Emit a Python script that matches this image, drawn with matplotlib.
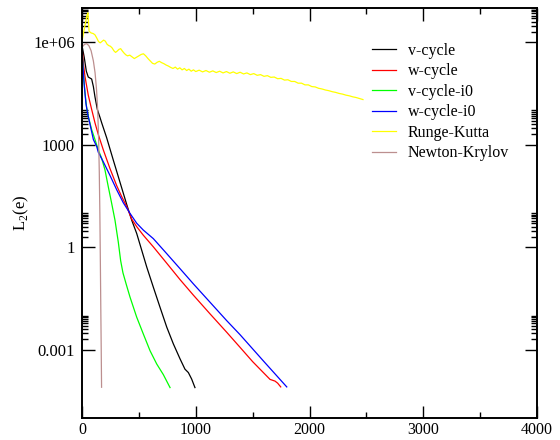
import numpy as np
import matplotlib
matplotlib.use("Agg")
import matplotlib.pyplot as plt
from matplotlib.ticker import FixedLocator, FixedFormatter, NullFormatter

plt.rcParams['font.family'] = ['Liberation Serif', 'DejaVu Serif']
plt.rcParams['mathtext.fontset'] = 'custom'
plt.rcParams['mathtext.rm'] = 'Liberation Serif'

# iteration counts and log10 of the error norm for each solver
vcycle_it = [0, 20, 38, 55, 85, 100, 114, 135, 158, 173, 217, 275, 334, 393, 437,
             481, 525, 569, 627, 686, 745, 803, 862, 905, 935, 964, 993]
vcycle_lg = [5.9, 5.55, 5.15, 4.98, 4.92, 4.7, 4.4, 4.03, 3.8, 3.64, 3.2, 2.55, 1.9,
             1.25, 0.79, 0.40, -0.09, -0.58, -1.17, -1.76, -2.34, -2.83, -3.27,
             -3.57, -3.67, -3.86, -4.11]

wcycle_it = [0, 15, 26, 55, 85, 114, 143, 187, 246, 305, 349, 393, 437, 481, 539,
             627, 745, 862, 978, 1125, 1272, 1389, 1500, 1653, 1697, 1720, 1747]
wcycle_lg = [5.85, 5.3, 5.0, 4.45, 4.03, 3.64, 3.3, 2.85, 2.3, 1.8, 1.48, 1.19, 0.82,
             0.60, 0.35, 0.01, -0.47, -0.95, -1.40, -1.95, -2.49, -2.93, -3.35,
             -3.87, -3.92, -3.98, -4.09]

vcycle_i0_it = [0, 10, 26, 40, 55, 85, 114, 143, 173, 202, 231, 261, 290, 319, 340,
                360, 390, 422, 481, 539, 598, 657, 715, 774]
vcycle_i0_lg = [5.8, 5.2, 4.52, 4.1, 3.83, 3.44, 3.15, 2.85, 2.6, 2.26, 1.77, 1.28,
                0.79, 0.15, -0.4, -0.75, -1.1, -1.46, -2.05, -2.54, -3.03, -3.42,
                -3.73, -4.11]

wcycle_i0_it = [0, 10, 18, 35, 50, 70, 100, 129, 143, 187, 246, 305, 363, 422, 481,
                539, 627, 745, 862, 978, 1125, 1272, 1389, 1600, 1800]
wcycle_i0_lg = [5.8, 5.2, 4.8, 4.2, 3.9, 3.6, 3.15, 2.95, 2.78, 2.5, 2.1, 1.68, 1.3,
                0.99, 0.70, 0.50, 0.25, -0.19, -0.63, -1.07, -1.61, -2.15, -2.56,
                -3.35, -4.09]

rk_it = [0, 15, 30, 45, 52, 57, 62, 80, 100, 115, 130, 145, 160, 175, 190, 205, 220,
         235, 250, 265, 280, 295, 310, 325, 340, 355, 370, 385, 400, 420, 440, 460,
         480, 500, 520, 540, 560, 580, 600, 620, 640, 660, 680, 700, 720, 740, 760,
         780, 800, 820, 840, 860, 880, 900, 920, 940, 960, 980, 1000, 1030, 1060,
         1090, 1120, 1150, 1180, 1210, 1240, 1270, 1300, 1330, 1360, 1390, 1420,
         1450, 1480, 1510, 1540, 1570, 1600, 1630, 1660, 1690, 1720, 1750, 1780,
         1810, 1840, 1870, 1900, 1930, 1960, 1990, 2020, 2050, 2080, 2110, 2140,
         2170, 2200, 2230, 2260, 2290, 2320, 2350, 2380, 2410, 2440, 2470]
rk_lg = [6.02, 6.3, 6.55, 6.8, 6.86, 6.6, 6.32, 6.27, 6.25, 6.21, 6.12, 6.02, 5.98,
         6.02, 6.06, 6.03, 5.94, 5.9, 5.88, 5.83, 5.75, 5.7, 5.74, 5.79, 5.81, 5.74,
         5.68, 5.63, 5.6, 5.62, 5.57, 5.52, 5.56, 5.6, 5.64, 5.66, 5.6, 5.52, 5.45,
         5.38, 5.36, 5.41, 5.44, 5.4, 5.37, 5.33, 5.3, 5.26, 5.23, 5.27, 5.21, 5.25,
         5.19, 5.23, 5.17, 5.21, 5.15, 5.19, 5.14, 5.18, 5.13, 5.17, 5.12, 5.16,
         5.11, 5.15, 5.1, 5.14, 5.09, 5.13, 5.08, 5.12, 5.07, 5.1, 5.05, 5.08, 5.03,
         5.05, 5.0, 5.02, 4.97, 4.98, 4.93, 4.94, 4.89, 4.9, 4.85, 4.85, 4.8, 4.8,
         4.75, 4.75, 4.7, 4.69, 4.65, 4.63, 4.6, 4.58, 4.55, 4.53, 4.5, 4.48, 4.45,
         4.43, 4.4, 4.38, 4.35, 4.32]

nk_it = [0, 20, 40, 60, 80, 100, 115, 128, 138, 146, 152, 157, 161, 165, 169, 172]
nk_lg = [5.85, 5.93, 5.96, 5.9, 5.75, 5.45, 5.1, 4.6, 4.0, 3.2, 2.2, 1.0, -0.3, -1.7,
         -3.0, -4.1]

series = [
    ("v-cycle", vcycle_it, vcycle_lg, "#000000"),
    ("w-cycle", wcycle_it, wcycle_lg, "#ff0000"),
    ("v-cycle-i0", vcycle_i0_it, vcycle_i0_lg, "#00ff00"),
    ("w-cycle-i0", wcycle_i0_it, wcycle_i0_lg, "#0000ff"),
    ("Runge-Kutta", rk_it, rk_lg, "#ffff00"),
    ("Newton-Krylov", nk_it, nk_lg, "#bc8f8f"),
]

fig = plt.figure(figsize=(5.6, 4.4), dpi=100)
ax = fig.add_axes([82 / 560, 22 / 440, 455 / 560, 410 / 440])

for name, it, lg, col in series:
    ax.plot(it, np.power(10.0, lg), color=col, lw=0.9, label=name)

ax.set_yscale('log')
ax.set_xlim(0, 4000)
ax.set_ylim(1e-5, 1e7)

ax.xaxis.set_major_locator(FixedLocator([0, 1000, 2000, 3000, 4000]))
ax.xaxis.set_minor_locator(FixedLocator([500, 1500, 2500, 3500]))
ax.xaxis.set_major_formatter(FixedFormatter(["0", "1000", "2000", "3000", "4000"]))

ymaj = [1e-3, 1.0, 1e3, 1e6]
ax.yaxis.set_major_locator(FixedLocator(ymaj))
ax.yaxis.set_major_formatter(FixedFormatter(["0.001", "1", "1000", "1e+06"]))
ymin = [k * b for b in ymaj for k in range(2, 11)]
ax.yaxis.set_minor_locator(FixedLocator(ymin))
ax.yaxis.set_minor_formatter(NullFormatter())

ax.tick_params(which='both', direction='in', top=True, right=True, width=1.0,
               labelsize=12, color='black')
ax.tick_params(which='major', length=9)
ax.tick_params(which='minor', length=4.5)
ax.tick_params(axis='x', pad=3, labelsize=11.5)
ax.tick_params(axis='y', pad=5)
for sp in ax.spines.values():
    sp.set_linewidth(1.4)

ax.set_ylabel(r'L$_2$(e)', fontsize=12)
ax.yaxis.set_label_coords(-0.113, 0.5)

ax.legend(loc='upper left', bbox_to_anchor=(372 / 560, 1 - 43 / 440),
          bbox_transform=fig.transFigure, frameon=False, fontsize=11.5,
          handlelength=1.5, handletextpad=0.75, labelspacing=0.28,
          borderpad=0, borderaxespad=0)

fig.savefig("out.png", dpi=100)
